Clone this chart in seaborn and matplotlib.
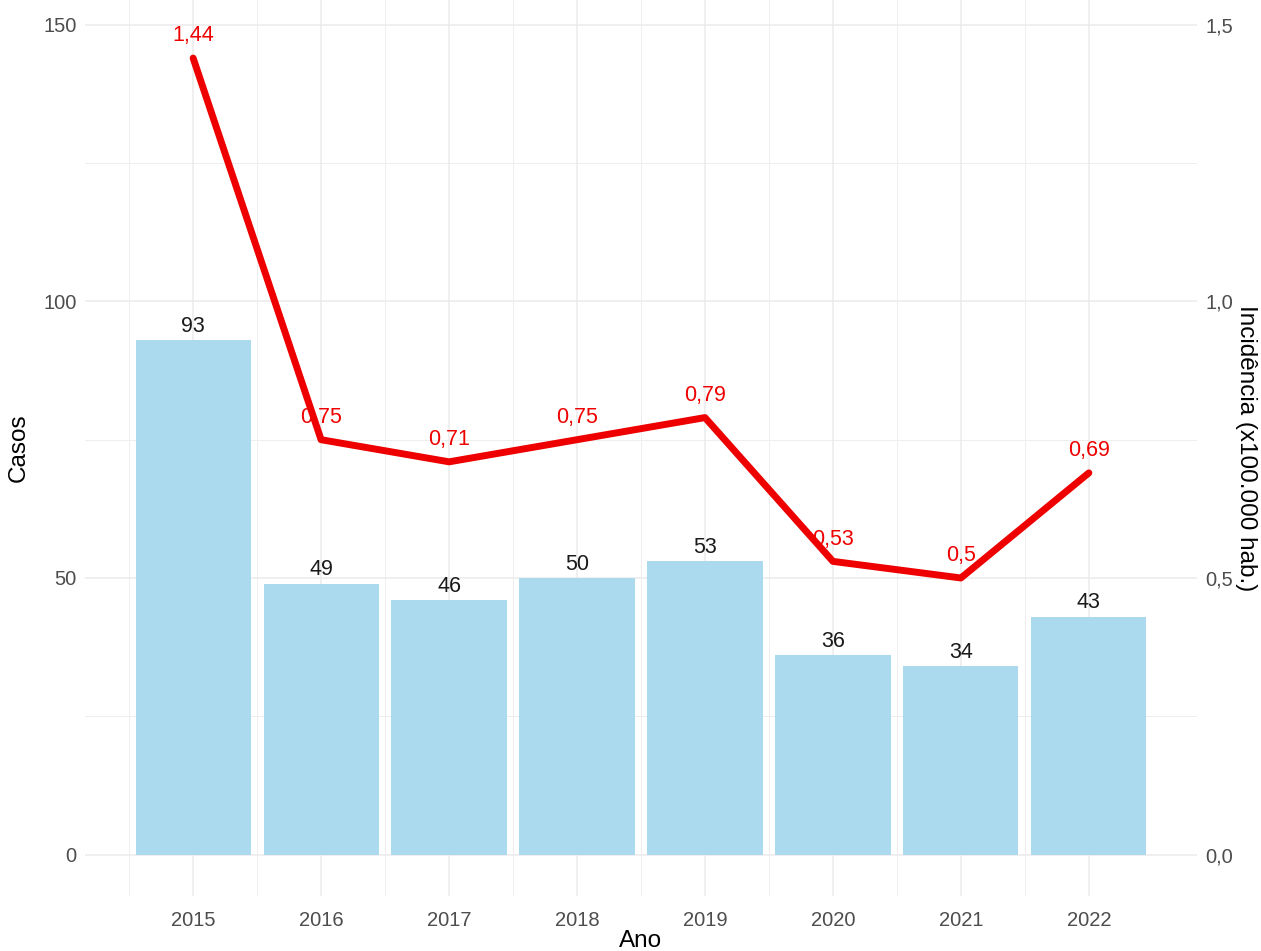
import matplotlib
matplotlib.use("Agg")
import matplotlib.pyplot as plt
import seaborn as sns
import pandas as pd

# Annual case counts and incidence per 100,000 inhabitants
anos = [2015, 2016, 2017, 2018, 2019, 2020, 2021, 2022]
casos = [93, 49, 46, 50, 53, 36, 34, 43]
incidencia = [1.44, 0.75, 0.71, 0.75, 0.79, 0.53, 0.50, 0.69]
rotulos_incidencia = ["1,44", "0,75", "0,71", "0,75", "0,79", "0,53", "0,5", "0,69"]

escala = 100  # secondary axis factor: incidence * 100 -> cases scale

df = pd.DataFrame({"ano": anos, "casos": casos, "incidencia": incidencia})
df["incid_esc"] = df["incidencia"] * escala

sns.set_theme(style="white")
plt.rcParams["font.family"] = ["Liberation Sans", "DejaVu Sans"]

fig = plt.figure(figsize=(12.61, 9.51), dpi=100)
ax = fig.add_axes([85 / 1261, 55 / 951, (1197 - 85) / 1261, 896 / 951])

grid_c = "#EBEBEB"
ax.set_xlim(2014.155, 2022.845)
ax.set_ylim(-7.5, 154.5)

# grid (minimal theme style)
for y in [0, 50, 100, 150]:
    ax.axhline(y, color=grid_c, lw=1.1, zorder=0)
for y in [25, 75, 125]:
    ax.axhline(y, color=grid_c, lw=0.6, zorder=0)
for x in anos:
    ax.axvline(x, color=grid_c, lw=1.1, zorder=0)
for x in [a + 0.5 for a in anos[:-1]] + [2014.5]:
    ax.axvline(x, color=grid_c, lw=0.6, zorder=0)

sns.barplot(data=df, x="ano", y="casos", native_scale=True, width=0.9,
            color="#ABDAEE", saturation=1, linewidth=0, ax=ax, zorder=2)
sns.lineplot(data=df, x="ano", y="incid_esc", color="#EE0000", lw=5,
             ax=ax, zorder=3)

for a, c in zip(anos, casos):
    ax.text(a, c + 2.5, str(c), ha="center", va="center", fontsize=15.5,
            color="#1a1a1a", zorder=4)
for a, v, r in zip(anos, incidencia, rotulos_incidencia):
    ax.text(a, v * escala + 4.0, r, ha="center", va="center", fontsize=15.5,
            color="#EE0000", zorder=4)

ax.set_xticks(anos)
ax.set_xticklabels([str(a) for a in anos])
ax.set_yticks([0, 50, 100, 150])
ax.set_yticklabels(["0", "50", "100", "150"])
ax.tick_params(axis="both", length=0, labelsize=14.5, labelcolor="#4D4D4D", pad=6)
ax.tick_params(axis="x", pad=11)
ax.set_xlabel("Ano", fontsize=17.5, color="black", labelpad=0)
ax.set_ylabel("Casos", fontsize=17.5, color="black", labelpad=10)
for s in ax.spines.values():
    s.set_visible(False)

ax2 = ax.twinx()
ax2.set_ylim(-7.5 / escala, 154.5 / escala)
ax2.set_yticks([0, 0.5, 1.0, 1.5])
ax2.set_yticklabels(["0,0", "0,5", "1,0", "1,5"])
ax2.tick_params(axis="y", length=0, labelsize=14.5, labelcolor="#4D4D4D", pad=6)
ax2.set_ylabel("Incidência (x100.000 hab.)", fontsize=17.5, color="black",
               rotation=270, labelpad=17)
for s in ax2.spines.values():
    s.set_visible(False)

fig.savefig("out.png", dpi=100, facecolor="white")
